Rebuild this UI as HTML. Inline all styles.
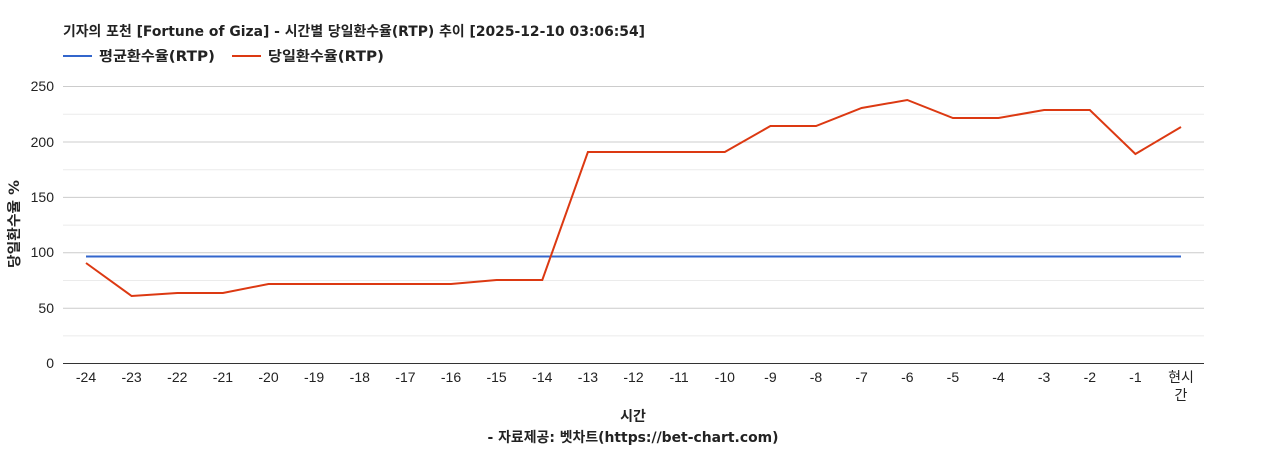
<!DOCTYPE html>
<html><head><meta charset="utf-8"><style>
body{margin:0;background:#fff;width:1268px;height:450px;overflow:hidden;font-family:"Liberation Sans","Noto Sans CJK KR",sans-serif}
.b{font-family:"DejaVu Sans","Noto Sans CJK KR",sans-serif;font-weight:bold}
</style></head><body>
<svg width="1268" height="450" xmlns="http://www.w3.org/2000/svg" font-family="Liberation Sans, Noto Sans CJK KR, sans-serif">
<text class="b" x="63" y="36" font-size="14" fill="#222" textLength="582" lengthAdjust="spacingAndGlyphs">기자의 포천 [Fortune of Giza] - 시간별 당일환수율(RTP) 추이 [2025-12-10 03:06:54]</text>
<line x1="63" y1="56" x2="92" y2="56" stroke="#3366cc" stroke-width="2"/>
<text class="b" x="99" y="61" font-size="14" fill="#222" textLength="116" lengthAdjust="spacingAndGlyphs">평균환수율(RTP)</text>
<line x1="232" y1="56" x2="261" y2="56" stroke="#dc3912" stroke-width="2"/>
<text class="b" x="268" y="61" font-size="14" fill="#222" textLength="116" lengthAdjust="spacingAndGlyphs">당일환수율(RTP)</text>
<g stroke="#ebebeb" stroke-width="1">
<line x1="63" x2="1204" y1="114.3" y2="114.3"/><line x1="63" x2="1204" y1="169.7" y2="169.7"/><line x1="63" x2="1204" y1="225.1" y2="225.1"/><line x1="63" x2="1204" y1="280.5" y2="280.5"/><line x1="63" x2="1204" y1="335.9" y2="335.9"/>
</g>
<g stroke="#ccc" stroke-width="1">
<line x1="63" x2="1204" y1="86.5" y2="86.5"/><line x1="63" x2="1204" y1="142" y2="142"/><line x1="63" x2="1204" y1="197.4" y2="197.4"/><line x1="63" x2="1204" y1="252.8" y2="252.8"/><line x1="63" x2="1204" y1="308.2" y2="308.2"/>
</g>
<line x1="63" x2="1204" y1="363.5" y2="363.5" stroke="#333"/>
<g font-size="14" fill="#222" text-anchor="end">
<text x="54" y="91">250</text><text x="54" y="147">200</text><text x="54" y="202">150</text><text x="54" y="257">100</text><text x="54" y="313">50</text><text x="54" y="368">0</text>
</g>
<text class="b" transform="translate(19,224) rotate(-90)" font-size="14" fill="#222" text-anchor="middle" textLength="88" lengthAdjust="spacingAndGlyphs">당일환수율 %</text>
<g font-size="14" fill="#222" text-anchor="middle">
<text x="86" y="382">-24</text><text x="131.6" y="382">-23</text><text x="177.3" y="382">-22</text><text x="222.9" y="382">-21</text><text x="268.5" y="382">-20</text><text x="314.1" y="382">-19</text><text x="359.8" y="382">-18</text><text x="405.4" y="382">-17</text><text x="451" y="382">-16</text><text x="496.6" y="382">-15</text><text x="542.3" y="382">-14</text><text x="587.9" y="382">-13</text><text x="633.5" y="382">-12</text><text x="679.1" y="382">-11</text><text x="724.8" y="382">-10</text><text x="770.4" y="382">-9</text><text x="816" y="382">-8</text><text x="861.6" y="382">-7</text><text x="907.3" y="382">-6</text><text x="952.9" y="382">-5</text><text x="998.5" y="382">-4</text><text x="1044.1" y="382">-3</text><text x="1089.8" y="382">-2</text><text x="1135.4" y="382">-1</text><text x="1181" y="382">현시</text><text x="1181" y="400">간</text>
</g>
<text class="b" x="633" y="421" font-size="14" fill="#222" text-anchor="middle">시간</text>
<text class="b" x="633" y="442" font-size="14" fill="#222" text-anchor="middle" textLength="291" lengthAdjust="spacingAndGlyphs">- 자료제공: 벳차트(https://bet-chart.com)</text>
<line x1="86" x2="1181" y1="256.5" y2="256.5" stroke="#3366cc" stroke-width="2"/>
<polyline fill="none" stroke="#dc3912" stroke-width="2" points="86,263 131.6,296 177.3,293 222.9,293 268.5,284 314.1,284 359.8,284 405.4,284 451,284 496.6,280 542.3,280 587.9,152 633.5,152 679.1,152 724.8,152 770.4,126 816,126 861.6,108 907.3,100 952.9,118 998.5,118 1044.1,110 1089.8,110 1135.4,154 1181,127"/>
</svg>
</body></html>
